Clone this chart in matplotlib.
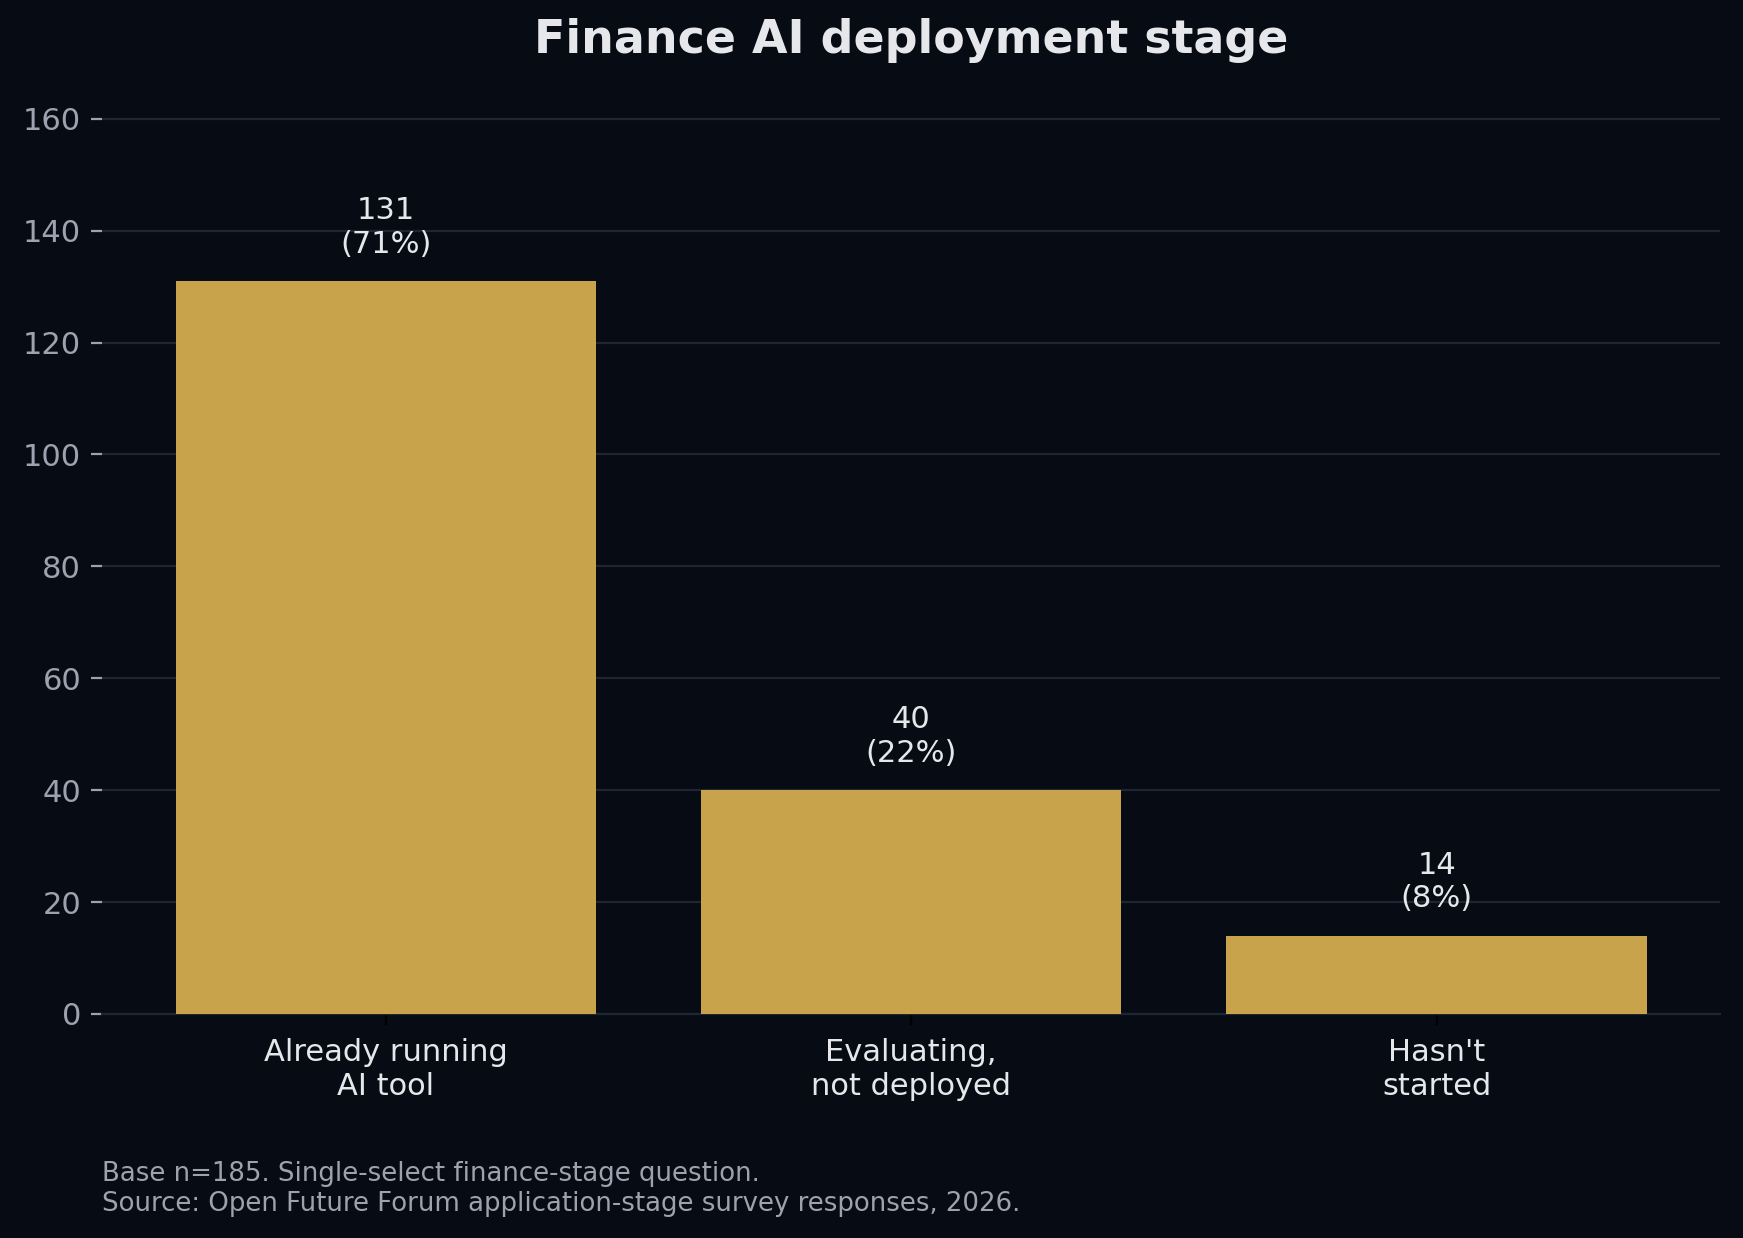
import matplotlib
matplotlib.use("Agg")
import matplotlib.pyplot as plt

categories = ["Already running\nAI tool", "Evaluating,\nnot deployed", "Hasn't\nstarted"]
counts = [131, 40, 14]
base_n = 185

bg = "#070b13"
bar_color = "#c9a24c"
grid_color = "#1e2633"

fig = plt.figure(figsize=(8.715, 6.19), dpi=200, facecolor=bg)
ax = fig.add_axes([0.0585, 0.181, 0.9285, 0.74])
ax.set_facecolor(bg)

x = list(range(len(categories)))
bars = ax.bar(x, counts, width=0.8, color=bar_color, zorder=3)

for xi, c in zip(x, counts):
    pct = round(c / base_n * 100)
    ax.annotate(f"{c}\n({pct}%)", (xi, c), xytext=(0, 8), textcoords="offset points",
                ha="center", va="bottom", fontsize=11, color="#e5e7eb")

ax.set_ylim(0, max(counts) * 1.25)
ax.set_yticks(range(0, 161, 20))
ax.set_xticks(x)
ax.set_xticklabels(categories, fontsize=11, color="#e5e7eb")
ax.tick_params(axis="y", colors="#9ca3af", labelsize=11, length=4)
ax.tick_params(axis="x", color="#000000", length=4, pad=4.8)
ax.grid(axis="y", color=grid_color, linewidth=0.8, zorder=0)
for s in ax.spines.values():
    s.set_visible(False)
ax.spines["bottom"].set_visible(True)
ax.spines["bottom"].set_color(grid_color)

ax.set_title("Finance AI deployment stage", fontsize=16.5, fontweight="bold", color="#e5e7eb", pad=16)

fig.text(0.0585, 0.017, "Base n=185. Single-select finance-stage question.\n"
         "Source: Open Future Forum application-stage survey responses, 2026.",
         fontsize=9.35, color="#9ca3af", ha="left", va="bottom", linespacing=1.2)

fig.savefig("out.png", dpi=200, facecolor=bg)
